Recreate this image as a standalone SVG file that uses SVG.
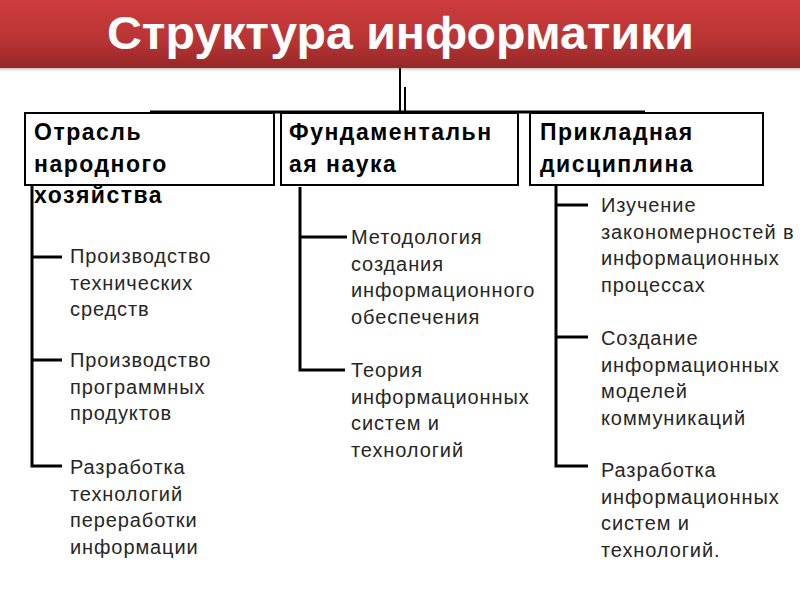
<svg xmlns="http://www.w3.org/2000/svg" width="800" height="600" viewBox="0 0 800 600">
<defs>
<linearGradient id="bar" x1="0" y1="0" x2="0" y2="1">
<stop offset="0" stop-color="#cf3c3c"/>
<stop offset="0.6" stop-color="#b83434"/>
<stop offset="1" stop-color="#962828"/>
</linearGradient>
<linearGradient id="shadow" x1="0" y1="0" x2="0" y2="1">
<stop offset="0" stop-color="#999" stop-opacity="0.6"/>
<stop offset="1" stop-color="#fff" stop-opacity="0"/>
</linearGradient>
</defs>
<style>
.title{font-family:"Liberation Sans",Arial,sans-serif;font-weight:bold;font-size:46px;fill:#fff}
.box{fill:#fff;stroke:#000;stroke-width:2}
.bt{font-family:"Liberation Sans",Arial,sans-serif;font-weight:bold;font-size:23px;fill:#000;letter-spacing:1.5px}
.lt{font-family:"Liberation Sans",Arial,sans-serif;font-size:20px;fill:#262626;letter-spacing:0.9px}
.ln{stroke:#000;stroke-width:3;fill:none}
.thin{stroke:#000;stroke-width:2;fill:none}
</style>
<rect width="800" height="600" fill="#fff"/>
<g id="title">
<rect x="0" y="68" width="800" height="5" fill="url(#shadow)"/>
<rect x="0" y="0" width="800" height="68" fill="url(#bar)"/>
<text class="title" x="107" y="49" textLength="587" lengthAdjust="spacingAndGlyphs">Структура информатики</text>
</g>
<g id="box1">
<rect class="box" x="25" y="113" width="249" height="72"/>
<text class="bt" x="34" y="140">Отрасль</text>
<text class="bt" x="34" y="172">народного</text>
<text class="bt" x="34" y="203">хозяйства</text>
</g>
<g id="box2">
<rect class="box" x="281" y="113" width="237" height="72"/>
<text class="bt" x="289" y="140">Фундаментальн</text>
<text class="bt" x="289" y="172">ая наука</text>
</g>
<g id="box3">
<rect class="box" x="530" y="113" width="233" height="72"/>
<text class="bt" x="540" y="140">Прикладная</text>
<text class="bt" x="540" y="172">дисциплина</text>
</g>
<g id="connectors">
<line class="thin" x1="400" y1="68" x2="400" y2="112"/>
<line class="thin" x1="405" y1="87" x2="405" y2="112"/>
<line class="ln" x1="150" y1="112" x2="645" y2="112"/>
<polyline class="ln" points="32,185 32,466 62,466"/>
<line class="ln" x1="32" y1="257" x2="62" y2="257"/>
<line class="ln" x1="32" y1="360" x2="62" y2="360"/>
<polyline class="ln" points="300,187 300,370 345,370"/>
<line class="ln" x1="300" y1="237" x2="347" y2="237"/>
<polyline class="ln" points="556,185 556,466 588,466"/>
<line class="ln" x1="556" y1="205" x2="588" y2="205"/>
<line class="ln" x1="556" y1="337" x2="588" y2="337"/>
</g>
<g id="left-items">
<text class="lt" x="70" y="263">Производство</text>
<text class="lt" x="70" y="289.5">технических</text>
<text class="lt" x="70" y="316">средств</text>
<text class="lt" x="70" y="367">Производство</text>
<text class="lt" x="70" y="393.5">программных</text>
<text class="lt" x="70" y="420">продуктов</text>
<text class="lt" x="70" y="474">Разработка</text>
<text class="lt" x="70" y="500.5">технологий</text>
<text class="lt" x="70" y="527">переработки</text>
<text class="lt" x="70" y="553.5">информации</text>
</g>
<g id="middle-items">
<text class="lt" x="351" y="244">Методология</text>
<text class="lt" x="351" y="270.5">создания</text>
<text class="lt" x="351" y="297">информационного</text>
<text class="lt" x="351" y="323.5">обеспечения</text>
<text class="lt" x="351" y="377">Теория</text>
<text class="lt" x="351" y="403.5">информационных</text>
<text class="lt" x="351" y="430">систем и</text>
<text class="lt" x="351" y="456.5">технологий</text>
</g>
<g id="right-items">
<text class="lt" x="601" y="212">Изучение</text>
<text class="lt" x="601" y="238.5">закономерностей в</text>
<text class="lt" x="601" y="265">информационных</text>
<text class="lt" x="601" y="291.5">процессах</text>
<text class="lt" x="601" y="345">Создание</text>
<text class="lt" x="601" y="371.5">информационных</text>
<text class="lt" x="601" y="398">моделей</text>
<text class="lt" x="601" y="424.5">коммуникаций</text>
<text class="lt" x="601" y="477">Разработка</text>
<text class="lt" x="601" y="503.5">информационных</text>
<text class="lt" x="601" y="530">систем и</text>
<text class="lt" x="601" y="556.5">технологий.</text>
</g>
</svg>
